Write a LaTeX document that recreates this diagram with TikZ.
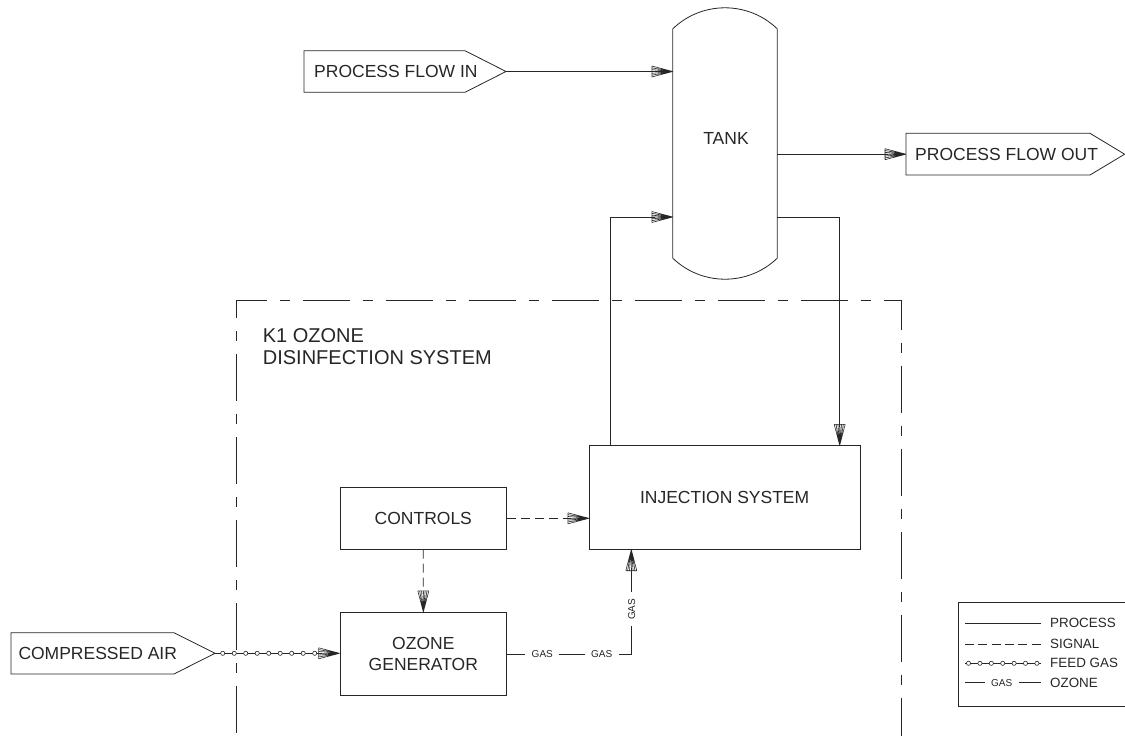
\documentclass[tikz,border=0pt]{standalone}
\usepackage{fontspec}
\setmainfont{Liberation Sans}
\usetikzlibrary{arrows.meta,calc}
\pgfdeclarearrow{
  name = Hatch,
  parameters = {\the\pgflinewidth},
  setup code = {
    \pgfarrowssettipend{0pt}
    \pgfarrowssetlineend{-18pt}
    \pgfarrowssetvisualbackend{-21pt}
    \pgfarrowssetbackend{-21pt}
    \pgfarrowshullpoint{0pt}{0pt}
    \pgfarrowsupperhullpoint{-21pt}{5.5pt}
  },
  drawing code = {
    \pgfsetdash{}{0pt}
    \pgfsetlinewidth{0.6pt}
    \pgfpathmoveto{\pgfqpoint{-21pt}{5.5pt}}
    \pgfpathlineto{\pgfqpoint{-21pt}{-5.5pt}}
    \pgfpathmoveto{\pgfqpoint{-21pt}{5.5pt}}\pgfpathlineto{\pgfqpoint{0pt}{0pt}}
    \pgfpathmoveto{\pgfqpoint{-21pt}{3.67pt}}\pgfpathlineto{\pgfqpoint{0pt}{0pt}}
    \pgfpathmoveto{\pgfqpoint{-21pt}{1.83pt}}\pgfpathlineto{\pgfqpoint{0pt}{0pt}}
    \pgfpathmoveto{\pgfqpoint{-21pt}{0pt}}\pgfpathlineto{\pgfqpoint{0pt}{0pt}}
    \pgfpathmoveto{\pgfqpoint{-21pt}{-1.83pt}}\pgfpathlineto{\pgfqpoint{0pt}{0pt}}
    \pgfpathmoveto{\pgfqpoint{-21pt}{-3.67pt}}\pgfpathlineto{\pgfqpoint{0pt}{0pt}}
    \pgfpathmoveto{\pgfqpoint{-21pt}{-5.5pt}}\pgfpathlineto{\pgfqpoint{0pt}{0pt}}
    \pgfusepathqstroke
  }
}
\tikzset{
  ln/.style={draw=black!85, line width=0.8pt},
  proc/.style={ln, -Hatch},
  sig/.style={ln, dash pattern=on 9pt off 5pt, -Hatch},
  bound/.style={ln, dash pattern=on 47pt off 13pt on 10pt off 13pt, dash phase=75.5pt},
  box/.style={draw=black!85, line width=0.8pt, rectangle, inner sep=0pt, text=black!85,
    font=\fontsize{17.5}{20.5}\selectfont, align=center},
  txt/.style={inner sep=0pt, text=black!85, font=\fontsize{17.5}{20.5}\selectfont},
  leg/.style={inner sep=0pt, text=black!85, font=\fontsize{13.4}{15}\selectfont, anchor=west},
  gas/.style={fill=white, inner xsep=6.5pt, inner ysep=1pt, text=black!85, font=\fontsize{10}{12}\selectfont},
  fgc/.style={draw=black!85, line width=0.6pt, fill=white},
}
\begin{document}
\begin{tikzpicture}[x=1pt,y=-1pt]
\useasboundingbox (0,0) rectangle (1125,736);

% system boundary
\draw[bound] (236.7,740) -- (236.7,300.5) -- (901.7,300.5) -- (901.7,740);
\node[inner sep=0pt, anchor=north west, align=left, text=black!85,
  font=\fontsize{20}{22}\selectfont] (title) at (262.7,328.7) {K1 OZONE\\DISINFECTION SYSTEM};

% tank
\node[minimum width=104pt, minimum height=229pt, inner sep=0pt] (tank) at (725,143.5) {};
\draw[ln] (tank.north west) .. controls +(29,-28) and +(-29,-28) .. (tank.north east)
  -- (tank.south east) .. controls +(-29,28) and +(29,28) .. (tank.south west) -- cycle;
\node[txt] (tanklbl) at (726,138) {TANK};

% tags
\node[txt, anchor=west] (pin) at (314,71.5) {PROCESS FLOW IN};
\draw[ln] (304,50.7) -- (465,50.7) -- (506,71.5) coordinate (pinTip) -- (465,92.3) -- (304,92.3) -- cycle;

\node[txt, anchor=west] (pout) at (915,154.2) {PROCESS FLOW OUT};
\draw[ln] (906,154.2) coordinate (poutIn) -- (906,133.3) -- (1090,133.3) -- (1124.6,154.2) -- (1090,175) -- (906,175) -- cycle;

\node[txt, anchor=west] (air) at (18.3,653.3) {COMPRESSED AIR};
\draw[ln] (11,632.7) -- (174,632.7) -- (215,653.3) coordinate (airTip) -- (174,674) -- (11,674) -- cycle;

% boxes
\node[box, minimum width=166.7pt, minimum height=62pt] (ctl) at (423.3,518.3) {CONTROLS};
\node[box, minimum width=270.7pt, minimum height=103.6pt] (inj) at (724.65,497.5) {INJECTION SYSTEM};
\node[box, minimum width=166.7pt, minimum height=83.4pt] (og) at (423.35,654) {OZONE\\GENERATOR};

% process connectors
\draw[proc] (pinTip) -- (pinTip -| tank.west);
\draw[proc] (poutIn -| tank.east) -- (poutIn);
\draw[proc] ([xshift=21.4pt]inj.north west) |- ([yshift=-73.5pt]tank.west);
\draw[proc] ([yshift=-73.5pt]tank.east) -| ([xshift=-20.7pt]inj.north east);

% signal connectors
\draw[sig] (ctl.east) -- (ctl.east -| inj.west);
\draw[sig] (ctl.south) -- (og.north);

% feed gas
\draw[proc] (airTip) -- (airTip -| og.west);
\foreach \x in {222.7,234.2,245.7,257.2,268.7,280.2,291.7,303.2,314.7}
  \draw[fgc] (\x,653.3) circle[radius=2.1pt];

% ozone gas
\draw[proc] (og.east) -| ([xshift=42.4pt]inj.south west);
\node[gas] (g1) at (542.3,654) {GAS};
\node[gas] (g2) at (601.7,654) {GAS};
\node[gas, rotate=90] (g3) at (631.7,609.3) {GAS};

% legend
\draw[ln] (1128,602.3) -- (958.3,602.3) -- (958.3,706.7) -- (1128,706.7);
\draw[ln] (965,623.3) -- (1040.7,623.3);
\node[leg] (l1) at (1050,623.3) {PROCESS};
\draw[ln, dash pattern=on 9pt off 4.3pt] (965,644) -- (1040.7,644);
\node[leg] (l2) at (1050,644) {SIGNAL};
\draw[ln] (965,663.3) -- (1040.7,663.3);
\foreach \x in {968.5,979.9,991.3,1002.7,1014.1,1025.5,1036.9}
  \draw[fgc] (\x,663.3) circle[radius=2.1pt];
\node[leg] (l3) at (1050,663.3) {FEED GAS};
\draw[ln] (965,682.7) -- (1040.7,682.7);
\node[gas] (lg) at (1001.7,682.7) {GAS};
\node[leg] (l4) at (1050,682.7) {OZONE};
\end{tikzpicture}
\end{document}
